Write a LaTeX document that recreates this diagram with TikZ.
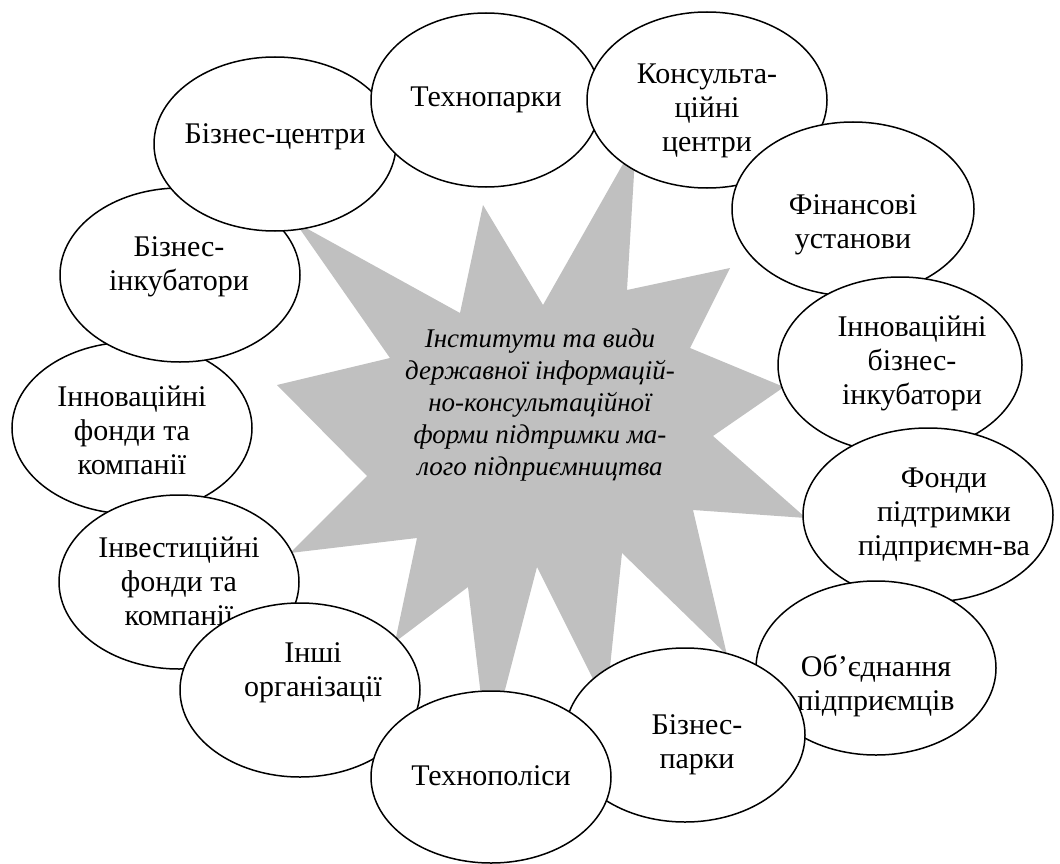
\documentclass[tikz,border=0pt]{standalone}
\usepackage{fontspec}
\setmainfont{Liberation Serif}
\usepackage{xcolor}
\usepackage{tikz}
\usetikzlibrary{shapes.geometric}
\definecolor{stargray}{RGB}{192,192,192}

\begin{document}
\begin{tikzpicture}[x=1pt, y=-1pt]
		\tikzstyle{oval} = [draw=black, fill=white, line width=1.5pt, ellipse, inner sep=0pt]
		\tikzstyle{txt} = [draw=none, align=center, inner sep=0pt, font=\fontsize{30}{34}\selectfont]
		\tikzstyle{core} = [draw=none, align=center, inner sep=0pt, font=\fontsize{27}{32}\selectfont\itshape]
		
		\useasboundingbox (0, 0) rectangle (1060, 864);
		
		% the star in the middle
		\fill[stargray] (483, 205) -- (543, 305) -- (636, 141) -- (627, 290) -- (730, 268) -- (690, 348)
			-- (784, 387) -- (713, 436) -- (806, 518) -- (693, 510) -- (727, 655) -- (622, 553)
			-- (606, 705) -- (537, 567) -- (488, 755) -- (468, 587) -- (395, 642) -- (417, 538)
			-- (290, 553) -- (367, 476) -- (277, 385) -- (390, 358) -- (295, 222) -- (460, 313) -- cycle;
		\node[core] 	at (540, 405)	(core) 	{Інститути та види\\державної інформацій-\\но-консультаційної\\форми підтримки ма-\\лого підприємництва};
		
		% ovals, lowest first
		\node[oval, minimum width=240pt, minimum height=172pt] 	at (132, 428)	(innfond) 	{};
		\node[txt] 	at (132, 430)	(innfond-t) 	{Інноваційні\\фонди та\\компанії};
		\node[oval, minimum width=240pt, minimum height=174pt] 	at (180, 275)	(binkub) 	{};
		\node[txt] 	at (179, 267)	(binkub-t) 	{Бізнес-\\інкубатори};
		\node[oval, minimum width=242pt, minimum height=174pt] 	at (275, 144)	(bcentr) 	{};
		\node[txt] 	at (275, 137)	(bcentr-t) 	{Бізнес-центри};
		\node[oval, minimum width=230pt, minimum height=174pt] 	at (486, 100)	(tpark) 	{};
		\node[txt] 	at (486, 100)	(tpark-t) 	{Технопарки};
		\node[oval, minimum width=240pt, minimum height=176pt] 	at (707, 100)	(konsult) 	{};
		\node[txt] 	at (707, 111)	(konsult-t) 	{Консульта-\\ційні\\центри};
		\node[oval, minimum width=242pt, minimum height=174pt] 	at (853, 209)	(finans) 	{};
		\node[txt] 	at (853, 225)	(finans-t) 	{Фінансові\\установи};
		\node[oval, minimum width=244pt, minimum height=176pt] 	at (900, 365)	(innbi) 	{};
		\node[txt] 	at (912, 363)	(innbi-t) 	{Інноваційні\\бізнес-\\інкубатори};
		\node[oval, minimum width=250pt, minimum height=174pt] 	at (928, 515)	(fond) 	{};
		\node[txt] 	at (944, 515)	(fond-t) 	{Фонди\\підтримки\\підприємн-ва};
		\node[oval, minimum width=240pt, minimum height=174pt] 	at (876, 668)	(obyed) 	{};
		\node[txt] 	at (876, 686)	(obyed-t) 	{Об’єднання\\підприємців};
		\node[oval, minimum width=240pt, minimum height=174pt] 	at (685, 735)	(bpark) 	{};
		\node[txt] 	at (697, 745)	(bpark-t) 	{Бізнес-\\парки};
		\node[oval, minimum width=240pt, minimum height=174pt] 	at (179, 582)	(invest) 	{};
		\node[txt] 	at (179, 581)	(invest-t) 	{Інвестиційні\\фонди та\\компанії};
		\node[oval, minimum width=240pt, minimum height=174pt] 	at (300, 690)	(inshi) 	{};
		\node[txt] 	at (313, 673)	(inshi-t) 	{Інші\\організації};
		\node[oval, minimum width=240pt, minimum height=172pt] 	at (491, 777)	(tpolis) 	{};
		\node[txt] 	at (491, 776)	(tpolis-t) 	{Технополіси};
	\end{tikzpicture}
\end{document}
